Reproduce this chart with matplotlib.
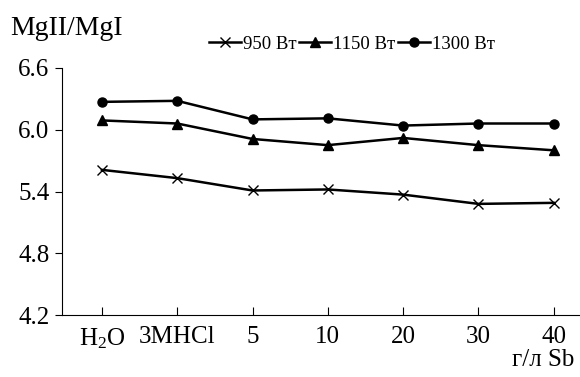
import matplotlib
matplotlib.use("Agg")
import matplotlib.pyplot as plt

plt.rcParams['font.family'] = ['Liberation Serif', 'DejaVu Serif']
plt.rcParams['mathtext.default'] = 'regular'

# данные
categories = ['H$_2$O', '3MHCl', '5', '10', '20', '30', '40']
w950 = [5.61, 5.53, 5.41, 5.42, 5.37, 5.28, 5.29]
w1150 = [6.09, 6.06, 5.91, 5.85, 5.92, 5.85, 5.80]
w1300 = [6.27, 6.28, 6.10, 6.11, 6.04, 6.06, 6.06]
yticks = [4.2, 4.8, 5.4, 6.0, 6.6]

fig = plt.figure(figsize=(5.8, 3.77), dpi=100)
ax = fig.add_axes([0.107, 0.164, 0.893, 0.656])

x = list(range(len(categories)))
ax.plot(x, w950, color='black', lw=1.8, marker='x', ms=7, mew=1.0, label='950 Вт')
ax.plot(x, w1150, color='black', lw=1.8, marker='^', ms=6.5, label='1150 Вт')
ax.plot(x, w1300, color='black', lw=1.8, marker='o', ms=6.5, label='1300 Вт')

ax.set_xlim(-0.53, 6.35)
ax.set_ylim(4.2, 6.6)
ax.set_yticks(yticks)
ax.set_yticklabels(['%.1f' % v for v in yticks])
ax.set_xticks(x)
ax.set_xticklabels(categories)

ax.spines['top'].set_visible(False)
ax.spines['right'].set_visible(False)
ax.tick_params(axis='y', direction='out', length=5, labelsize=18, pad=4)
ax.tick_params(axis='x', direction='in', length=6, labelsize=18, pad=8)

fig.text(0.018, 0.925, 'MgII/MgI', fontsize=20, va='center', ha='left')
fig.text(0.99, 0.045, 'г/л Sb', fontsize=18, va='center', ha='right')

ax.legend(loc='center', bbox_to_anchor=(0.56, 1.095), ncol=3, frameon=False,
          fontsize=13.5, handlelength=1.7, handletextpad=0.1, columnspacing=0.15,
          borderaxespad=0)

plt.savefig('out.png', dpi=100)
